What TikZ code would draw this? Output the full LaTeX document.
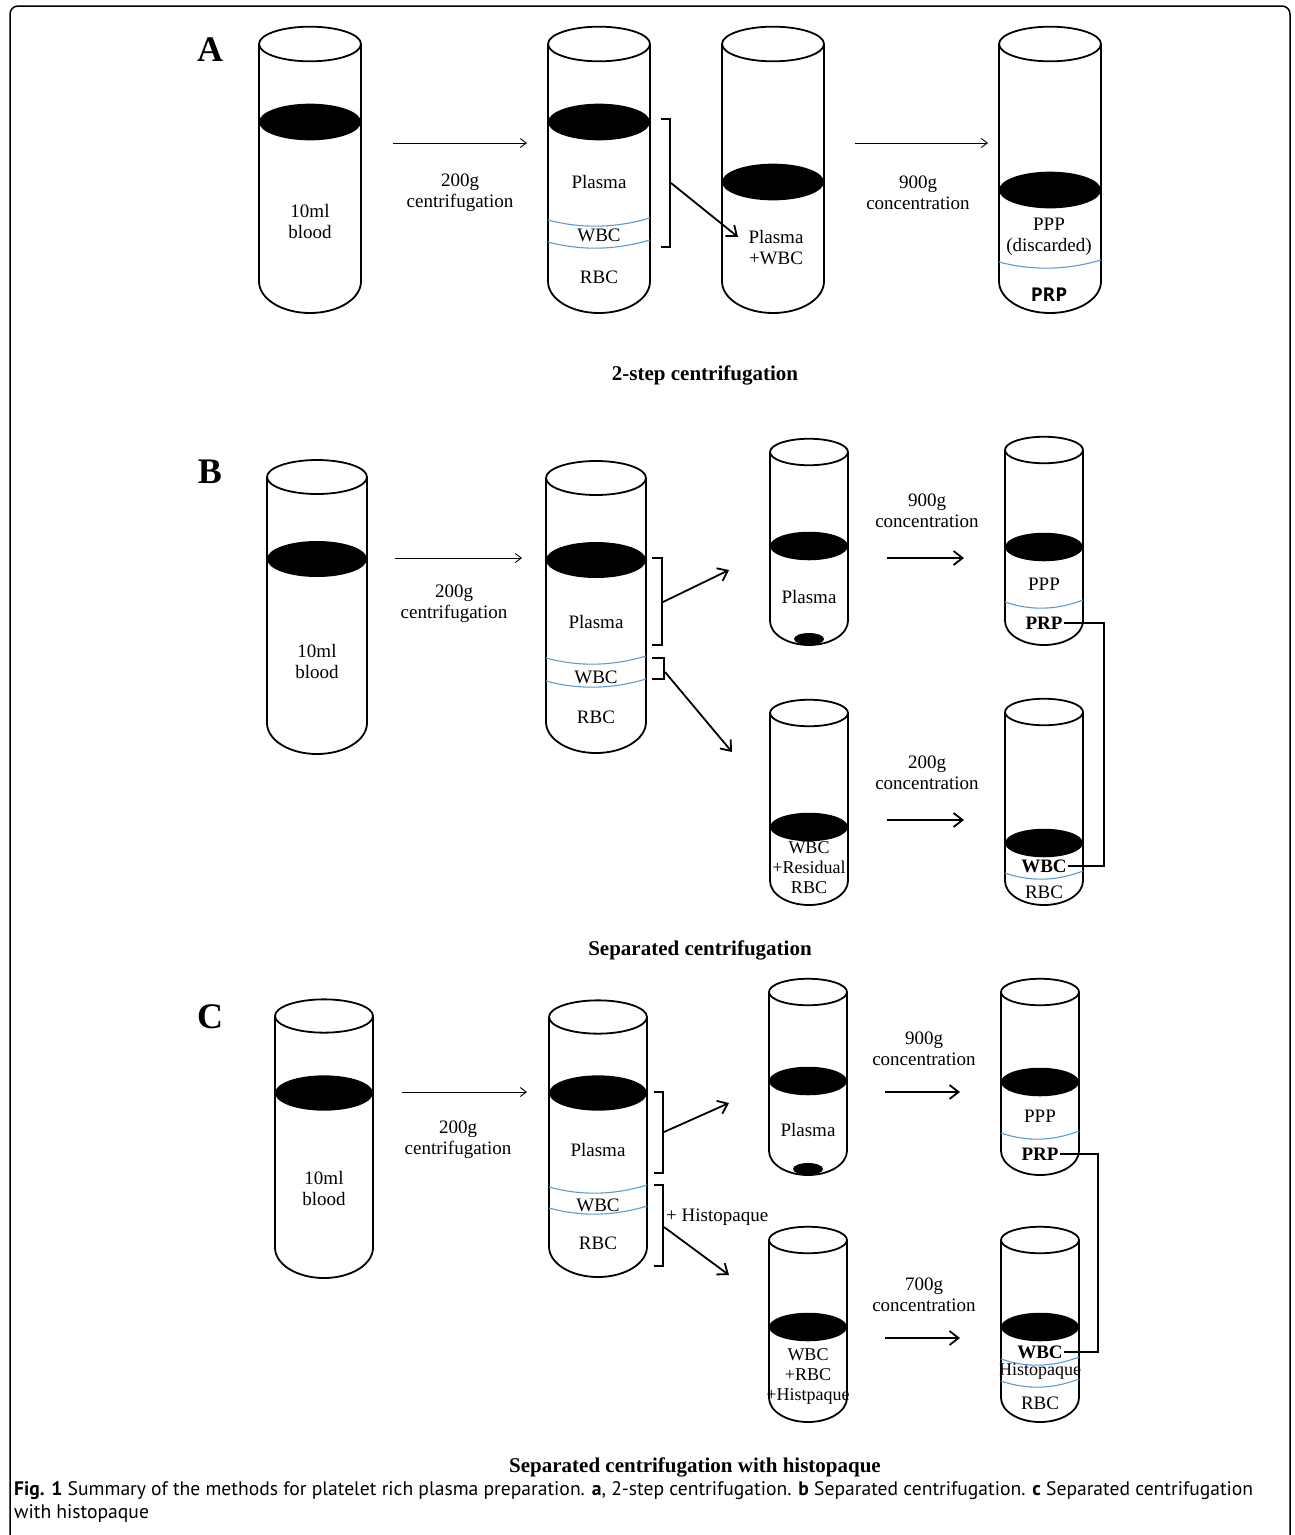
\documentclass[tikz,border=0pt]{standalone}
\usepackage{fontspec}
\setmainfont{Liberation Serif}
\newfontfamily\capfont{PT Sans}
\newfontfamily\prpfont{Open Sans}
\usetikzlibrary{arrows.meta}
\definecolor{layerblue}{HTML}{5B9BD5}
\newcommand{\tubefont}{\fontsize{19}{21}\selectfont}
\newcommand{\smallfont}{\fontsize{18}{20}\selectfont}
% test tube: #1 centre x, #2 rim y, #3 bottom y, #4 half width, #5 surface y
\newcommand{\testtube}[5]{%
  \pgfmathsetmacro{\rimry}{0.34*#4}
  \pgfmathsetmacro{\botry}{0.62*#4}
  \pgfmathsetmacro{\sidey}{#3-\botry}
  \fill (#1,#5) ellipse[x radius=#4, y radius=\rimry+1];
  \draw[tubeline] (#1,#2) ellipse[x radius=#4, y radius=\rimry];
  \draw[tubeline] (#1-#4,#2) -- (#1-#4,\sidey)
    arc[start angle=180, end angle=0, x radius=#4, y radius=\botry] -- (#1+#4,#2);
}
% boundary between two layers
\newcommand{\layer}[3]{%
  \draw[layerline] (#1-#2,#3) .. controls (#1-#2/3,#3+9) and (#1+#2/3,#3+8) .. (#1+#2,#3-2);
}
\begin{document}
\begin{tikzpicture}[x=1pt, y=-1pt,
    tubeline/.style={line width=1.8pt},
    layerline/.style={line width=1.1pt, layerblue},
    thinarrow/.style={-{Straight Barb[length=6pt,width=9pt]}, line width=0.9pt},
    bigarrow/.style={-{Straight Barb[length=9pt,width=14pt]}, line width=1.8pt},
    bracketline/.style={line width=1.8pt},
    link/.style={line width=1.3pt},
    lbl/.style={font=\tubefont, align=center, inner sep=1pt},
    lbls/.style={font=\smallfont, align=center, inner sep=1pt},
    panel/.style={font=\fontsize{36}{36}\selectfont\bfseries},
    title/.style={font=\fontsize{21}{23}\selectfont\bfseries}]
    \useasboundingbox (0,0) rectangle (1295,1535);
    \draw[line width=1.5pt, rounded corners=8pt] (10,1545) -- (10,6) -- (1290,6) -- (1290,1545);

    % A: 2-step centrifugation
    \node[panel] (labA) at (210,50) {A};
    \testtube{310}{44}{313}{51}{122}
    \node[lbl] (bloodA) at (310,221) {10ml\\blood};

    \testtube{599}{44}{313}{51}{122}
    \layer{599}{51}{220}
    \layer{599}{51}{242}
    \node[lbl] (plasmaA) at (599,182) {Plasma};
    \node[lbl] (wbcA) at (599,235) {WBC};
    \node[lbl] (rbcA) at (599,277) {RBC};

    \testtube{773}{44}{313}{51}{182}
    \node[lbl] (mixA) at (776,248) {Plasma\\+WBC};

    \testtube{1050}{44}{313}{51}{190}
    \layer{1050}{51}{262}
    \node[lbl] (pppA) at (1049,237) {PPP\\(discarded)};
    \node[lbl, font=\prpfont\bfseries\tubefont] (prpA) at (1049,295) {PRP};

    \coordinate (spinA1) at (393,143);
    \coordinate (spinA1e) at (527,143);
    \draw[thinarrow] (spinA1) -- (spinA1e);
    \node[lbl] (gA1) at (460,193) {200g\\centrifugation};

    \draw[bracketline] (661,119) -- (670,119) -- (670,247) -- (661,247);
    \coordinate (brA) at (671,183);
    \coordinate (inA) at (738,237);
    \draw[bigarrow] (brA) -- (inA);

    \coordinate (spinA2) at (855,143);
    \coordinate (spinA2e) at (988,143);
    \draw[thinarrow] (spinA2) -- (spinA2e);
    \node[lbl] (gA2) at (918,193) {900g\\concentration};

    \node[title] (titleA) at (705,375) {2-step centrifugation};

    % B: separated centrifugation
    \node[panel] (labB) at (210,472) {B};
    \testtube{317}{477}{754}{50}{559}
    \node[lbl] (bloodB) at (317,661) {10ml\\blood};

    \testtube{596}{478}{753}{50}{560}
    \layer{596}{50}{658}
    \layer{596}{50}{681}
    \node[lbl] (plasmaB) at (596,622) {Plasma};
    \node[lbl] (wbcB) at (596,677) {WBC};
    \node[lbl] (rbcB) at (596,717) {RBC};

    \coordinate (spinB) at (395,558);
    \coordinate (spinBe) at (522,558);
    \draw[thinarrow] (spinB) -- (spinBe);
    \node[lbl] (gB) at (454,604) {200g\\centrifugation};

    \draw[bracketline] (652,558) -- (662,558) -- (662,645) -- (652,645);
    \draw[bracketline] (652,658) -- (664,658) -- (664,679) -- (652,679);
    \coordinate (brB1) at (663,602);
    \coordinate (inB3) at (729,570);
    \coordinate (brB2) at (665,672);
    \coordinate (inB5) at (732,752);
    \draw[bigarrow] (brB1) -- (inB3);
    \draw[bigarrow] (brB2) -- (inB5);

    \testtube{809}{452}{645}{39}{546}
    \fill (809,639) ellipse[x radius=15, y radius=6];
    \node[lbl] (plasmaB3) at (809,597) {Plasma};

    \testtube{1044}{450}{645}{39}{547}
    \layer{1044}{39}{602}
    \node[lbl] (pppB) at (1044,584) {PPP};
    \node[lbl, font=\tubefont\bfseries] (prpB) at (1044,623) {PRP};

    \testtube{809}{713}{905}{39}{827}
    \node[lbls] (mixB) at (809,868) {WBC\\+Residual\\RBC};

    \testtube{1044}{712}{905}{39}{843}
    \layer{1044}{39}{873}
    \node[lbl, font=\tubefont\bfseries] (wbcB6) at (1044,866) {WBC};
    \node[lbl] (rbcB6) at (1044,892) {RBC};

    \coordinate (spinB3) at (887,558);
    \coordinate (spinB3e) at (964,558);
    \draw[bigarrow] (spinB3) -- (spinB3e);
    \node[lbl] (gB3) at (927,511) {900g\\concentration};
    \coordinate (spinB5) at (887,820);
    \coordinate (spinB5e) at (964,820);
    \draw[bigarrow] (spinB5) -- (spinB5e);
    \node[lbl] (gB5) at (927,773) {200g\\concentration};

    \draw[link] (prpB.east) -- (1104,623) |- (wbcB6.east);

    \node[title] (titleB) at (700,950) {Separated centrifugation};

    % C: separated centrifugation with histopaque
    \node[panel] (labC) at (210,1017) {C};
    \testtube{324}{1016}{1278}{49}{1093}
    \node[lbl] (bloodC) at (324,1188) {10ml\\blood};

    \testtube{598}{1017}{1277}{49}{1093}
    \layer{598}{49}{1187}
    \layer{598}{49}{1208}
    \node[lbl] (plasmaC) at (598,1150) {Plasma};
    \node[lbl] (wbcC) at (598,1205) {WBC};
    \node[lbl] (rbcC) at (598,1243) {RBC};

    \coordinate (spinC) at (402,1092);
    \coordinate (spinCe) at (527,1092);
    \draw[thinarrow] (spinC) -- (spinCe);
    \node[lbl] (gC) at (458,1140) {200g\\centrifugation};

    \draw[bracketline] (654,1092) -- (663,1092) -- (663,1173) -- (654,1173);
    \draw[bracketline] (654,1185) -- (663,1185) -- (663,1266) -- (654,1266);
    \node[lbl, anchor=west] (histo) at (665,1217) {+ Histopaque};
    \coordinate (brC1) at (664,1132);
    \coordinate (inC3) at (729,1103);
    \coordinate (brC2) at (664,1227);
    \coordinate (inC5) at (729,1275);
    \draw[bigarrow] (brC1) -- (inC3);
    \draw[bigarrow] (brC2) -- (inC5);

    \testtube{808}{992}{1175}{39}{1081}
    \fill (808,1169) ellipse[x radius=15, y radius=6];
    \node[lbl] (plasmaC3) at (808,1130) {Plasma};

    \testtube{1040}{992}{1175}{39}{1082}
    \layer{1040}{39}{1133}
    \node[lbl] (pppC) at (1040,1116) {PPP};
    \node[lbl, font=\tubefont\bfseries] (prpC) at (1040,1154) {PRP};

    \testtube{808}{1240}{1422}{39}{1327}
    \node[lbls] (mixC) at (808,1376) {WBC\\+RBC\\+Histpaque};

    \testtube{1040}{1240}{1422}{39}{1327}
    \layer{1040}{39}{1359}
    \layer{1040}{39}{1381}
    \node[lbl, font=\tubefont\bfseries] (wbcC6) at (1040,1352) {WBC};
    \node[lbls] (histoC6) at (1040,1371) {Histopaque};
    \node[lbl] (rbcC6) at (1040,1403) {RBC};

    \coordinate (spinC3) at (885,1092);
    \coordinate (spinC3e) at (960,1092);
    \draw[bigarrow] (spinC3) -- (spinC3e);
    \node[lbl] (gC3) at (924,1049) {900g\\concentration};
    \coordinate (spinC5) at (885,1338);
    \coordinate (spinC5e) at (960,1338);
    \draw[bigarrow] (spinC5) -- (spinC5e);
    \node[lbl] (gC5) at (924,1295) {700g\\concentration};

    \draw[link] (prpC.east) -- (1098,1154) |- (wbcC6.east);

    \node[title] (titleC) at (695,1467) {Separated centrifugation with histopaque};

    % caption
    \node[anchor=west, inner sep=0, font=\capfont\fontsize{19.6}{22}\selectfont] (cap1) at (14,1491)
      {\textbf{Fig. 1} Summary of the methods for platelet rich plasma preparation. \textbf{a}, 2-step centrifugation. \textbf{b} Separated centrifugation. \textbf{c} Separated centrifugation};
    \node[anchor=west, inner sep=0, font=\capfont\fontsize{19.6}{22}\selectfont] (cap2) at (14,1514) {with histopaque};
\end{tikzpicture}
\end{document}
